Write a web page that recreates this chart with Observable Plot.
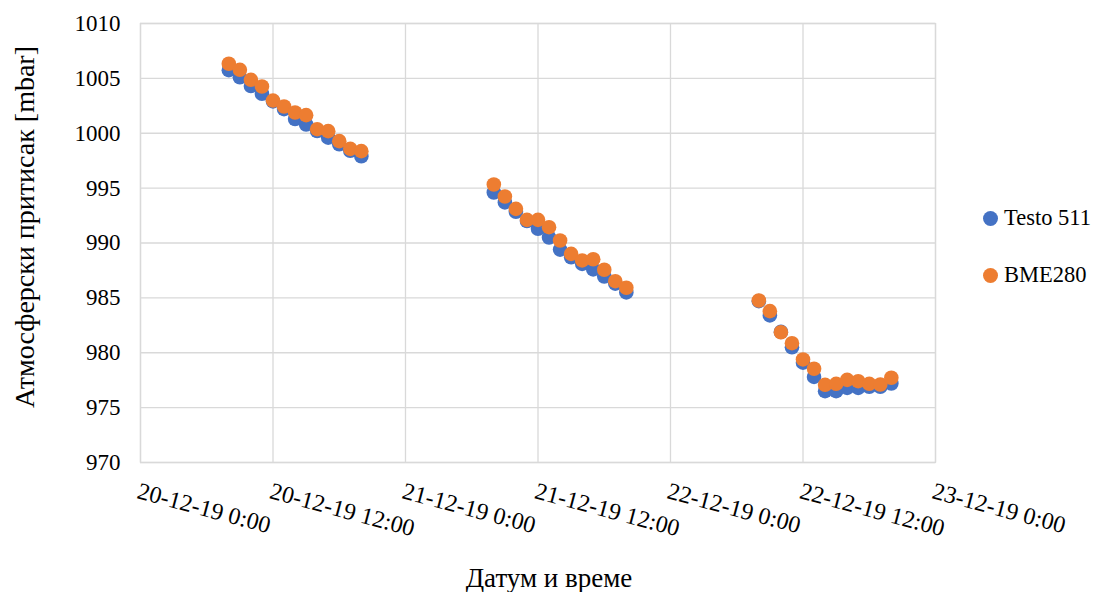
<!DOCTYPE html>
<html>
<head>
<meta charset="utf-8">
<script src="https://cdn.jsdelivr.net/npm/d3@7"></script>
<script src="https://cdn.jsdelivr.net/npm/@observablehq/plot@0.6"></script>
<style>
  html, body { margin: 0; padding: 0; background: #fff; }
  #wrap { position: relative; width: 1096px; height: 592px; font-family: "Liberation Serif", "Times New Roman", serif; }
  .leg { position: absolute; left: 983px; font-size: 22.5px; line-height: 26px; color: #000; display: flex; align-items: center; }
  .leg span.dot { display: inline-block; width: 15px; height: 15px; border-radius: 50%; margin-right: 6px; }
</style>
</head>
<body>
<div id="wrap"></div>
<script>
// Data
const days = ["2019-12-20", "2019-12-21", "2019-12-22"];
const hours = [8, 9, 10, 11, 12, 13, 14, 15, 16, 17, 18, 19, 20];
const testo511 = [
  1005.75, 1005.1, 1004.3, 1003.6, 1002.9, 1002.2, 1001.3, 1000.8, 1000.2, 999.6, 999.0, 998.4, 997.9,
  994.6, 993.7, 992.85, 992.0, 991.3, 990.5, 989.4, 988.7, 988.1, 987.6, 986.95, 986.3, 985.5,
  984.7, 983.4, 981.9, 980.5, 979.1, 977.8, 976.5, 976.5, 976.8, 976.8, 976.9, 976.9, 977.2
];
const bme280 = [
  1006.33, 1005.78, 1004.87, 1004.26, 1002.98, 1002.44, 1001.89, 1001.65, 1000.37, 1000.19, 999.28, 998.58, 998.37,
  995.33, 994.24, 993.11, 992.11, 992.11, 991.44, 990.23, 989.01, 988.41, 988.52, 987.56, 986.52, 985.92,
  984.76, 983.79, 981.87, 980.87, 979.39, 978.54, 977.08, 977.17, 977.53, 977.41, 977.17, 977.11, 977.72
];
const seriesNames = ["Testo 511", "BME280"];
const seriesColors = ["#4472C4", "#ED7D31"];
const yTicks = [970, 975, 980, 985, 990, 995, 1000, 1005, 1010];
const xDomain = ["2019-12-20T00:00Z", "2019-12-23T00:00Z"];
const yTitle = "Атмосферски притисак [mbar]";
const xTitle = "Датум и време";

const times = [];
days.forEach(d => hours.forEach(h => times.push(new Date(`${d}T${String(h).padStart(2, "0")}:00Z`))));
const rowsTesto = times.map((t, i) => ({t, v: testo511[i]}));
const rowsBme = times.map((t, i) => ({t, v: bme280[i]}));

const fmt = d => `${d3.utcFormat("%d-%m-%y")(d)} ${d.getUTCHours()}:00`;
const xTicks = d3.utcHour.every(12).range(new Date(xDomain[0]), new Date(new Date(xDomain[1]).getTime() + 1));

const chart = Plot.plot({
  width: 1096,
  height: 592,
  marginLeft: 140,
  marginRight: 161,
  marginTop: 23,
  marginBottom: 130,
  style: {fontFamily: "Liberation Serif, Times New Roman, serif", color: "#000", background: "#fff"},
  x: {type: "utc", domain: xDomain.map(s => new Date(s))},
  y: {domain: [970, 1010]},
  marks: [
    Plot.gridX(xTicks, {stroke: "#D9D9D9", strokeOpacity: 1, strokeWidth: 1.3}),
    Plot.gridY(yTicks, {stroke: "#D9D9D9", strokeOpacity: 1, strokeWidth: 1.3}),
    Plot.frame({stroke: "#D9D9D9", strokeWidth: 1.3}),
    Plot.axisY(yTicks, {
      tickSize: 0, tickPadding: 20, fontSize: 23, tickFormat: d => String(d), label: null
    }),
    Plot.axisX(xTicks, {
      tickSize: 0, tickPadding: 19, fontSize: 24, tickFormat: fmt, tickRotate: 15,
      textAnchor: "start", lineAnchor: "top", label: null
    }),
    Plot.dot(rowsTesto, {x: "t", y: "v", r: 7.3, fill: seriesColors[0]}),
    Plot.dot(rowsBme, {x: "t", y: "v", r: 7.3, fill: seriesColors[1]}),
    Plot.text([yTitle], {frameAnchor: "left", rotate: -90, textAnchor: "middle", lineAnchor: "middle", dx: -115, dy: -16, fontSize: 28, fill: "#000", text: d => d}),
    Plot.text([xTitle], {frameAnchor: "bottom", textAnchor: "middle", lineAnchor: "middle", dx: 11, dy: 116, fontSize: 27, fill: "#000", text: d => d})
  ]
});
const wrap = document.getElementById("wrap");
wrap.appendChild(chart);

seriesNames.forEach((n, i) => {
  const div = document.createElement("div");
  div.className = "leg";
  div.style.top = (i === 0 ? 205 : 262) + "px";
  div.innerHTML = `<span class="dot" style="background:${seriesColors[i]}"></span>${n}`;
  wrap.appendChild(div);
});
</script>
</body>
</html>
